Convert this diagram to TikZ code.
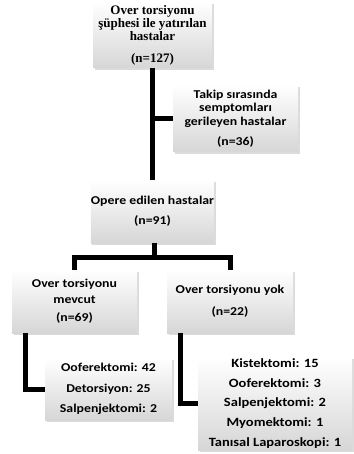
\documentclass[tikz,border=0pt]{standalone}
\usepackage{fontspec}
\setmainfont{Liberation Serif}
\newfontfamily\calfont[FakeStretch=1.15]{Carlito}
\usetikzlibrary{shadows,positioning}
\begin{document}
\begin{tikzpicture}[x=1pt,y=-1pt,
  box/.style={rectangle, inner sep=0pt, align=center,
    top color=white, bottom color=gray!32, middle color=gray!16,
    drop shadow={shadow xshift=1.5pt, shadow yshift=-2pt, opacity=0.35, fill=gray!80}},
  cal/.style={font=\calfont\bfseries\fontsize{12}{13.5}\selectfont},
  calbig/.style={font=\calfont\bfseries\fontsize{12.6}{15}\selectfont},
  tms/.style={font=\bfseries\fontsize{13}{13.3}\selectfont},
  conn/.style={line width=5pt, black}]
\useasboundingbox (0,0) rectangle (353,454);
\node[box, tms, minimum width=119pt, minimum height=66pt] (b1) at (152.5,35)
  {Over torsiyonu\\ şüphesi ile yatırılan\\ hastalar\\[8pt] (n=127)};
\node[box, cal, minimum width=125pt, minimum height=67pt] (b2) at (235.5,118.5)
  {Takip sırasında\\ semptomları\\ gerileyen hastalar\\[6.5pt] (n=36)};
\node[box, cal, minimum width=121pt, minimum height=63pt] (b3) at (152.5,211.5)
  {Opere edilen hastalar\\[6.5pt] (n=91)};
\node[box, cal, minimum width=125pt, minimum height=63pt] (b4) at (74.5,301.5)
  {Over torsiyonu\\[2.5pt] mevcut\\[4.5pt] (n=69)};
\node[box, cal, minimum width=126pt, minimum height=63pt] (b5) at (230,301.5)
  {Over torsiyonu yok\\[8.5pt] (n=22)};
\node[box, cal, minimum width=127pt, minimum height=62pt] (b6) at (108.5,389)
  {Ooferektomi: 42\\[7pt] Detorsiyon: 25\\[7pt] Salpenjektomi: 2};
\node[box, calbig, minimum width=154pt, minimum height=93pt] (b7) at (275,403.5)
  {Kistektomi: 15\\[4.7pt] Ooferektomi: 3\\[4.7pt] Salpenjektomi: 2\\[4.7pt] Myomektomi: 1\\[4.7pt] Tanısal Laparoskopi: 1};
\coordinate (j) at (154,257);
\coordinate (c4) at (25,0);
\coordinate (c5) at (180,0);
\draw[conn] (b1.south) -- (b3.north);
\draw[conn] (b1.south |- b2.west) -- (b2.west);
\draw[conn] (b3.south -| j) -- (j);
\draw[conn, line join=miter] (b4.north) -- (b4.north |- j) -- (b5.north |- j) -- (b5.north);
\draw[conn, line join=miter] (c4 |- b4.south) -- (c4 |- b6.west) -- (b6.west);
\draw[conn, line join=miter] (c5 |- b5.south) -- (c5 |- b7.west) -- (b7.west);
\end{tikzpicture}
\end{document}
